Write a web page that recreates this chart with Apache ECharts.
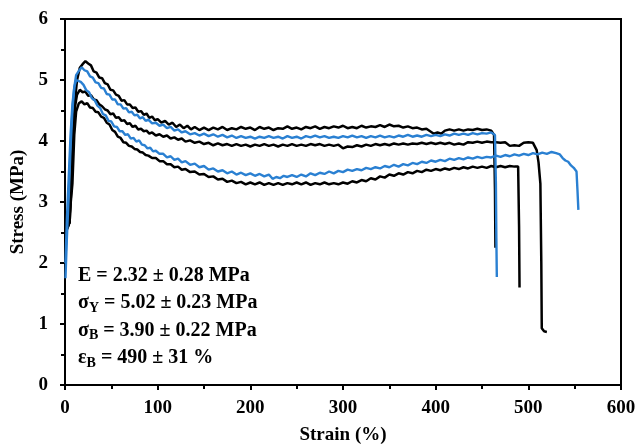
<!DOCTYPE html>
<html>
<head>
<meta charset="utf-8">
<script src="https://cdn.jsdelivr.net/npm/echarts@6/dist/echarts.min.js"></script>
<style>html,body{margin:0;padding:0;background:#fff;}#c{width:636px;height:448px;}</style>
</head>
<body>
<div id="c"></div>
<script>
// Strain (%) / Stress (MPa) pairs
const blackA = [[0.5,2.2],[2,2.6],[5,2.66],[7,3.4],[9,4.2],[11,4.7],[13,5.0],[16,5.2],[19,5.26],[22,5.31],[25,5.27],[28,5.24],
[31,5.14],[34,5.12],[37,5.04],[40,5.03],[43,4.95],[46,4.93],[49,4.84],[52,4.83],[55,4.76],[58,4.74],[61,4.66],[64,4.67],[67,4.6],[70,4.6],[73,4.54],[76,4.55],[79,4.48],[82,4.49],[85,4.43],[88,4.45],[91,4.38],[94,4.4],[97,4.34],[100,4.36],[104,4.3],[108,4.33],[112,4.27],[116,4.3],[120,4.23],[124,4.27],[128,4.21],[132,4.25],[136,4.19],[140,4.23],[145,4.18],[150,4.22],
[155,4.18],[160,4.22],[165,4.19],[170,4.23],[175,4.18],[180,4.21],[185,4.19],[190,4.23],[195,4.2],[200,4.22],[205,4.18],[210,4.23],[215,4.2],[220,4.22],[225,4.18],[230,4.21],[235,4.2],[240,4.24],[245,4.2],[250,4.22],[255,4.19],[260,4.23],[265,4.21],[270,4.24],[275,4.2],[280,4.23],[285,4.21],[290,4.24],[295,4.22],[300,4.25],[305,4.21],[310,4.23],[315,4.21],[320,4.25],[325,4.22],[330,4.24],[335,4.23],[340,4.26],[345,4.23],[350,4.27],[355,4.24],[360,4.25],[365,4.22],[370,4.24],[375,4.21],[380,4.22],[385,4.19],[390,4.2],[394,4.16],[398,4.12],[402,4.14],[406,4.12],[410,4.17],[415,4.19],[420,4.17],[425,4.19],[430,4.17],[435,4.19],[440,4.18],[445,4.2],[450,4.18],[455,4.19],[460,4.17],[463,4.1],[464,3.2],[464.5,2.25]];

const blueA = [[0.5,1.75],[2,2.4],[4,3.1],[6,3.9],[8,4.5],[10,4.88],[12,5.08],[15,5.15],[18,5.21],[21,5.16],[24,5.14],[27,5.06],[30,5.04],[33,4.96],[36,4.95],[39,4.87],[42,4.86],[45,4.77],[48,4.76],[51,4.68],[54,4.68],[57,4.6],[60,4.6],[63,4.53],[66,4.54],[69,4.47],[72,4.48],[75,4.42],[78,4.43],[81,4.37],[84,4.39],[87,4.33],[90,4.35],[94,4.29],[98,4.3],[102,4.25],[106,4.27],[110,4.21],[114,4.23],[118,4.17],[122,4.19],[126,4.14],[130,4.16],[135,4.11],[140,4.13],[145,4.09],[150,4.12],[155,4.08],[160,4.11],[165,4.07],[170,4.1],[175,4.06],[180,4.09],[185,4.05],[190,4.08],[195,4.05],[200,4.07],[205,4.04],[210,4.07],[215,4.05],[220,4.08],[225,4.05],[230,4.07],[235,4.04],[240,4.08],[245,4.05],[250,4.07],[255,4.04],[260,4.08],[265,4.06],[270,4.09],[275,4.06],[280,4.08],[285,4.05],[290,4.07],[295,4.05],[300,4.08],[305,4.06],[310,4.09],[315,4.06],[320,4.08],[325,4.05],[330,4.08],[335,4.06],[340,4.09],[345,4.06],[350,4.08],[355,4.06],[360,4.09],[365,4.07],[370,4.1],[375,4.07],[380,4.09],[385,4.07],[390,4.1],[395,4.08],[400,4.1],[405,4.08],[410,4.11],[415,4.09],[420,4.12],[425,4.1],[430,4.12],[435,4.1],[440,4.13],[445,4.11],[450,4.13],[455,4.12],[460,4.14],[464,4.1],[465,3.3],[465.5,2.4],[466,1.77]];

const blackB = [[1,2.5],[3,2.6],[5,2.66],[7,3.3],[9,4.2],[11,4.58],[13,4.76],[16,4.84],[19,4.8],[22,4.81],[25,4.74],[28,4.75],[31,4.68],[34,4.67],[37,4.6],[40,4.57],[43,4.52],[46,4.5],[49,4.44],[52,4.45],[55,4.38],[58,4.39],[61,4.33],[64,4.34],[67,4.28],[70,4.29],[73,4.23],[76,4.25],[79,4.19],[82,4.2],[85,4.16],[88,4.17],[91,4.12],[94,4.14],[98,4.09],[102,4.11],[106,4.07],[110,4.09],[114,4.04],[118,4.06],[122,4.02],[126,4.04],[130,3.99],[135,4.01],[140,3.97],[145,3.99],[150,3.95],[155,3.97],[160,3.93],[165,3.96],[170,3.93],[175,3.95],[180,3.92],[185,3.95],[190,3.92],[195,3.94],[200,3.91],[205,3.94],[210,3.92],[215,3.95],[220,3.92],[225,3.94],[230,3.91],[235,3.94],[240,3.92],[245,3.95],[250,3.92],[255,3.94],[260,3.92],[265,3.95],[270,3.93],[275,3.95],[280,3.92],[285,3.94],[290,3.92],[295,3.94],[300,3.88],[305,3.91],[310,3.9],[315,3.93],[320,3.91],[325,3.94],[330,3.92],[335,3.95],[340,3.93],[345,3.95],[350,3.93],[355,3.96],[360,3.94],[365,3.96],[370,3.94],[375,3.96],[380,3.95],[385,3.97],[390,3.95],[395,3.97],[400,3.95],[405,3.97],[410,3.95],[415,3.97],[420,3.94],[425,3.96],[430,3.94],[435,3.98],[440,3.97],[445,3.99],[450,3.97],[455,3.99],[460,3.98],[465,3.98],[470,3.97],[475,3.98],[480,3.92],[485,3.93],[490,3.92],[495,3.97],[500,3.98],[505,3.97],[509,3.85],[511,3.65],[513,3.3],[514,2.0],[514.5,0.93],[517,0.88],[520,0.87]];

const blueB = [[0.5,2.0],[2,2.7],[4,3.4],[6,4.1],[8,4.6],[10,4.88],[12,5.0],[14,5.03],[17,4.97],[20,4.92],[23,4.83],[26,4.8],[29,4.7],[32,4.67],[35,4.58],[38,4.54],[41,4.44],[44,4.42],[47,4.33],[50,4.32],[53,4.24],[56,4.23],[59,4.16],[62,4.16],[65,4.1],[68,4.11],[71,4.04],[74,4.05],[77,3.99],[80,4.01],[83,3.94],[86,3.93],[89,3.88],[92,3.89],[95,3.83],[98,3.84],[102,3.79],[106,3.79],[110,3.73],[114,3.75],[118,3.69],[122,3.71],[126,3.65],[130,3.67],[135,3.61],[140,3.63],[145,3.57],[150,3.59],[155,3.53],[160,3.55],[165,3.5],[170,3.52],[175,3.47],[180,3.5],[185,3.45],[190,3.48],[195,3.44],[200,3.47],[205,3.43],[210,3.46],[215,3.42],[220,3.45],[224,3.38],[228,3.41],[232,3.39],[236,3.43],[240,3.41],[245,3.44],[250,3.41],[255,3.45],[260,3.42],[265,3.47],[270,3.44],[275,3.48],[280,3.46],[285,3.5],[290,3.47],[295,3.51],[300,3.49],[305,3.53],[310,3.51],[315,3.54],[320,3.52],[325,3.56],[330,3.54],[335,3.57],[340,3.55],[345,3.59],[350,3.57],[355,3.61],[360,3.58],[365,3.62],[370,3.6],[375,3.64],[380,3.62],[385,3.66],[390,3.64],[395,3.68],[400,3.66],[405,3.69],[410,3.67],[415,3.71],[420,3.69],[425,3.72],[430,3.7],[435,3.73],[440,3.71],[445,3.74],[450,3.72],[455,3.74],[460,3.73],[465,3.76],[470,3.74],[475,3.77],[480,3.75],[485,3.78],[490,3.76],[495,3.79],[500,3.77],[505,3.8],[510,3.78],[515,3.81],[520,3.79],[525,3.82],[530,3.8],[534,3.78],[537,3.72],[540,3.68],[543,3.66],[546,3.6],[549,3.56],[552,3.5],[553,3.2],[554,2.87]];

const blackC = [[2,2.55],[4,2.62],[6,2.65],[8,3.3],[10,4.1],[12,4.48],[15,4.62],[18,4.65],[21,4.6],[24,4.62],[27,4.55],[30,4.54],[33,4.48],[36,4.47],[39,4.4],[42,4.38],[45,4.3],[48,4.27],[51,4.18],[54,4.15],[57,4.07],[60,4.05],[63,3.98],[66,3.97],[69,3.92],[72,3.91],[75,3.87],[78,3.86],[81,3.82],[84,3.81],[87,3.77],[90,3.76],[94,3.72],[98,3.72],[102,3.67],[106,3.67],[110,3.62],[114,3.62],[118,3.57],[122,3.58],[126,3.53],[130,3.54],[135,3.49],[140,3.5],[145,3.45],[150,3.46],[155,3.41],[160,3.42],[165,3.37],[170,3.38],[175,3.33],[180,3.35],[185,3.31],[190,3.33],[195,3.29],[200,3.32],[205,3.29],[210,3.32],[215,3.28],[220,3.31],[225,3.28],[230,3.31],[235,3.28],[240,3.31],[245,3.29],[250,3.32],[255,3.29],[260,3.32],[265,3.28],[270,3.31],[275,3.29],[280,3.32],[285,3.29],[290,3.31],[295,3.29],[300,3.32],[305,3.3],[310,3.34],[315,3.32],[320,3.36],[325,3.34],[330,3.39],[335,3.37],[340,3.42],[345,3.4],[350,3.45],[355,3.43],[360,3.47],[365,3.45],[370,3.49],[375,3.47],[380,3.51],[385,3.49],[390,3.53],[395,3.51],[400,3.54],[405,3.52],[410,3.55],[415,3.53],[420,3.56],[425,3.54],[430,3.57],[435,3.55],[440,3.58],[445,3.56],[450,3.58],[455,3.56],[460,3.59],[465,3.57],[470,3.59],[475,3.57],[480,3.59],[485,3.58],[489,3.58],[490,2.6],[490.5,1.6]];

const xTicks = {min: 0, max: 600, interval: 100};
const yTicks = {min: 0, max: 6, interval: 1};
const annotations = [
  ['E', '', ' = 2.32 ± 0.28 MPa'],
  ['σ', 'Y', ' = 5.02 ± 0.23 MPa'],
  ['σ', 'B', ' = 3.90 ± 0.22 MPa'],
  ['ε', 'B', ' = 490 ± 31 %']
];

const FONT = '"Liberation Serif", "Times New Roman", serif';
const BLUE = '#2a80d2';
const BLACK = '#000000';

const chart = echarts.init(document.getElementById('c'), null, {renderer: 'canvas'});

function lineSeries(data, color, width) {
  return {type: 'line', data: data, showSymbol: false, symbol: 'none', smooth: false,
    lineStyle: {color: color, width: width}, animation: false, silent: true};
}

const graphics = annotations.map((a, i) => ({
  type: 'text', left: 78, top: 266 + i * 27.3,
  style: {
    text: '{m|' + a[0] + '}' + (a[1] ? '{s|' + a[1] + '}' : '') + '{m|' + a[2] + '}',
    rich: {
      m: {fontFamily: FONT, fontWeight: 'bold', fontSize: 20, fill: '#000', lineHeight: 24, verticalAlign: 'bottom'},
      s: {fontFamily: FONT, fontWeight: 'bold', fontSize: 14, fill: '#000', lineHeight: 24, verticalAlign: 'bottom', padding: [0, 0, -2, 0]}
    }
  }
}));

chart.setOption({
  animation: false,
  backgroundColor: '#fff',
  grid: {left: 65, right: 15, top: 19, bottom: 63, containLabel: false, outerBoundsMode: 'none',
    show: true, borderColor: '#000', borderWidth: 2, backgroundColor: 'transparent'},
  xAxis: {
    type: 'value', min: xTicks.min, max: xTicks.max, interval: xTicks.interval,
    name: 'Strain (%)', nameLocation: 'middle', nameGap: 41,
    nameTextStyle: {fontFamily: FONT, fontWeight: 'bold', fontSize: 19, color: '#000'},
    axisLine: {show: true, onZero: false, lineStyle: {color: '#000', width: 2}},
    axisTick: {show: true, inside: false, length: 5, lineStyle: {color: '#000', width: 2}},
    minorTick: {show: true, splitNumber: 2, length: 4, lineStyle: {color: '#000', width: 2}},
    axisLabel: {fontFamily: FONT, fontWeight: 'bold', fontSize: 19, color: '#000', margin: 14},
    splitLine: {show: false}
  },
  yAxis: {
    type: 'value', min: yTicks.min, max: yTicks.max, interval: yTicks.interval,
    name: 'Stress (MPa)', nameLocation: 'middle', nameGap: 34, nameRotate: 90,
    nameTextStyle: {fontFamily: FONT, fontWeight: 'bold', fontSize: 19, color: '#000'},
    axisLine: {show: true, onZero: false, lineStyle: {color: '#000', width: 2}},
    axisTick: {show: true, inside: false, length: 5, lineStyle: {color: '#000', width: 2}},
    minorTick: {show: true, splitNumber: 2, length: 4, lineStyle: {color: '#000', width: 2}},
    axisLabel: {fontFamily: FONT, fontWeight: 'bold', fontSize: 19, color: '#000', margin: 17},
    splitLine: {show: false}
  },
  series: [
    lineSeries(blackA, BLACK, 2.5),
    lineSeries(blackB, BLACK, 2.5),
    lineSeries(blackC, BLACK, 2.5),
    lineSeries(blueA, BLUE, 2.4),
    lineSeries(blueB, BLUE, 2.4)
  ],
  graphic: graphics
});
</script>
</body>
</html>
